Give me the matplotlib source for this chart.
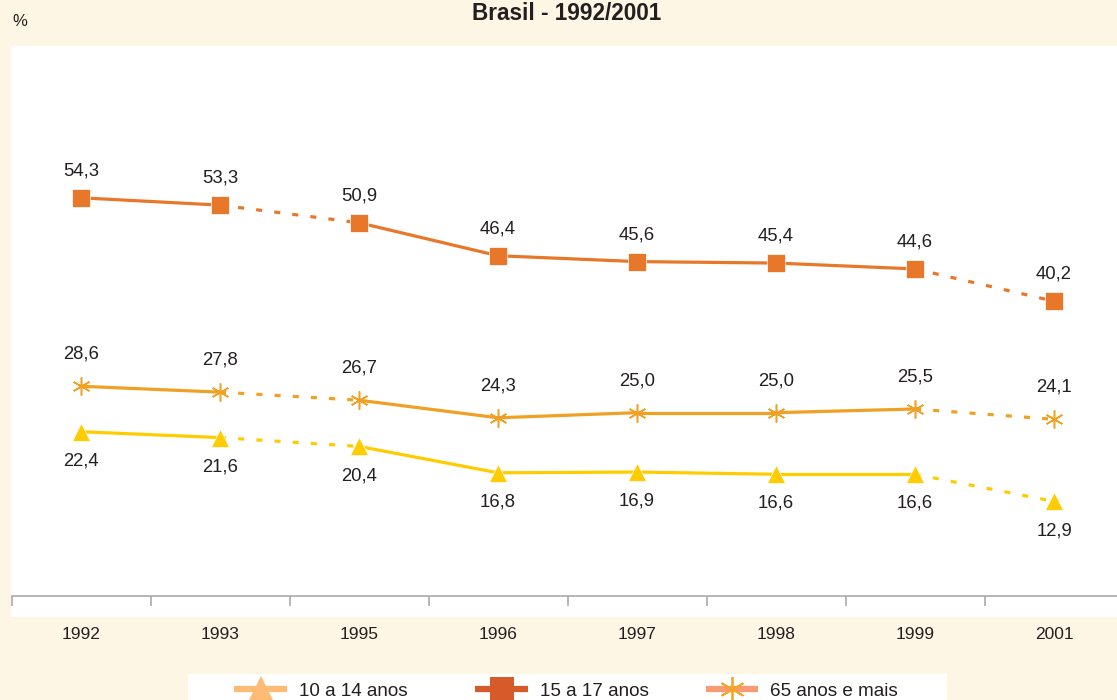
import matplotlib
matplotlib.use("Agg")
import matplotlib.pyplot as plt
from matplotlib.lines import Line2D
from matplotlib.patches import Rectangle

# data
years = ["1992", "1993", "1995", "1996", "1997", "1998", "1999", "2001"]
v_10_14 = [22.4, 21.6, 20.4, 16.8, 16.9, 16.6, 16.6, 12.9]
v_15_17 = [54.3, 53.3, 50.9, 46.4, 45.6, 45.4, 44.6, 40.2]
v_65 = [28.6, 27.8, 26.7, 24.3, 25.0, 25.0, 25.5, 24.1]
# segments drawn dotted (gaps in the yearly survey)
dotted = [(1, 2), (6, 7)]

legend_labels = ["10 a 14 anos", "15 a 17 anos", "65 anos e mais"]

W, H = 1117, 700
BG = "#FEF6E5"
TXT = "#231F20"
plt.rcParams["font.family"] = ["Liberation Sans", "DejaVu Sans"]

fig = plt.figure(figsize=(W / 100, H / 100), dpi=100, facecolor=BG)


def fx(px):
    return px / W


def fy(py):
    return 1 - py / H


# white plot panel (extends a bit below the axis line)
fig.add_artist(Rectangle((fx(11), fy(617)), fx(1117) - fx(11), fy(46) - fy(617),
                         transform=fig.transFigure, facecolor="white",
                         edgecolor="none", zorder=0))

ax = fig.add_axes([fx(11.5), fy(596), 1112 / W, 550 / H])
ax.set_facecolor("white")
ax.set_xlim(-0.5, 7.5)
ax.set_ylim(0, 75)
for s in ("top", "left", "right"):
    ax.spines[s].set_visible(False)
ax.spines["bottom"].set_color("#AAAAAA")
ax.spines["bottom"].set_linewidth(1.2)
ax.spines["bottom"].set_clip_on(False)
ax.set_yticks([])
x = list(range(len(years)))
ax.set_xticks(x)
ax.set_xticklabels(years, fontsize=12.5, color=TXT)
ax.tick_params(axis="x", which="major", length=0, pad=22)
ax.set_xticks([i - 0.5 for i in range(len(years) + 1)], minor=True)
ax.tick_params(axis="x", which="minor", length=7, width=1.2, color="#AAAAAA",
               direction="out")


def series(vals, color, marker, ms, mew, lab_off):
    for i in range(len(vals) - 1):
        ls = (0, (1.9, 3.8)) if (i, i + 1) in dotted else "-"
        ax.plot([x[i], x[i + 1]], [vals[i], vals[i + 1]], color=color, lw=2.3,
                ls=ls, zorder=2, clip_on=False)
    ax.plot(x, vals, ls="none", marker=marker, ms=ms, color=color,
            mec=color if mew else "white", mew=mew if mew else 0.5, zorder=3,
            clip_on=False)
    for xi, v in zip(x, vals):
        ax.annotate(f"{v:.1f}".replace(".", ","), (xi, v), xytext=(0, lab_off),
                    textcoords="offset points", ha="center", va="center",
                    fontsize=13.3, color=TXT)


c_sq = "#E8772A"
c_ast = "#F0A023"
c_tri = "#FFCC00"
series(v_15_17, c_sq, "s", 13, 0, 19.5)
series(v_65, c_ast, (6, 2, 0), 13, 1.1, 23)
series(v_10_14, c_tri, "^", 13, 0, -21)

# title and unit
fig.text(fx(567), fy(14), "Brasil - 1992/2001", ha="center", va="center",
         fontsize=16.3, fontweight="bold", color=TXT)
fig.text(fx(12), fy(21), "%", ha="left", va="center", fontsize=12, color=TXT)

# legend strip at the bottom (cut by the image edge, as in the source)
fig.add_artist(Rectangle((fx(188), 0), fx(947) - fx(188), fy(674),
                         transform=fig.transFigure, facecolor="white",
                         edgecolor="none", zorder=1))
leg_y = fy(689)
leg_items = [
    (234, 287, "#FDBB76", "#FDBB76", "^", 19, 0, legend_labels[0]),
    (475, 528, "#D65A2A", "#D65A2A", "s", 17, 0, legend_labels[1]),
    (706, 758, "#F99A72", "#F5A623", (6, 2, 0), 18, 1.3, legend_labels[2]),
]
for x0, x1, lc, mc, mk, ms, mew, lab in leg_items:
    fig.add_artist(Line2D([fx(x0), fx(x1)], [leg_y, leg_y], color=lc, lw=4.5,
                          solid_capstyle="butt",
                          transform=fig.transFigure, zorder=2))
    fig.add_artist(Line2D([fx((x0 + x1) / 2)], [leg_y], ls="none", marker=mk,
                          ms=ms, color=mc, mec=mc, mew=mew,
                          transform=fig.transFigure, zorder=3))
    fig.text(fx(x1 + 12), fy(691), lab, ha="left", va="center", fontsize=13.6,
             color=TXT, zorder=3)

fig.savefig("out.png", dpi=100, facecolor=BG)
